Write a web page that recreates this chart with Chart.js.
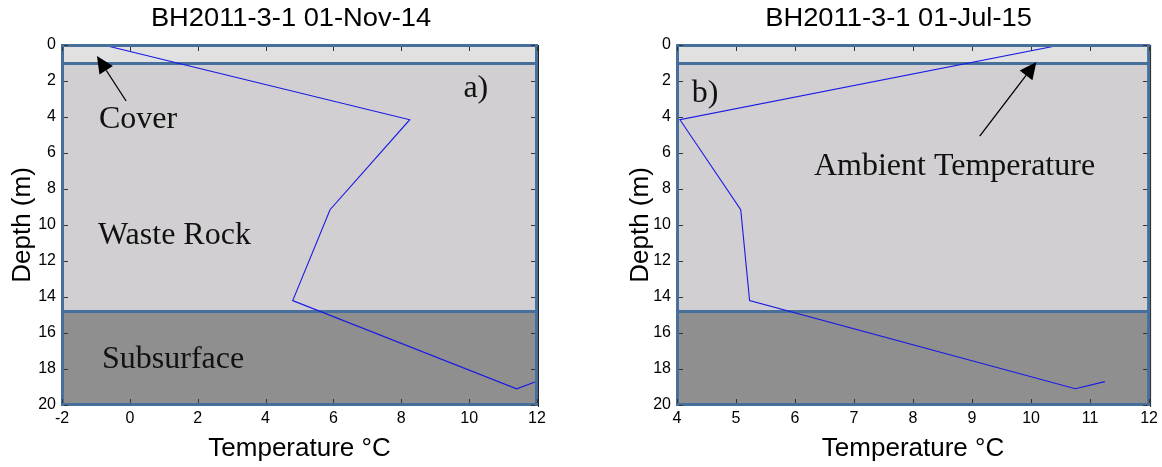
<!DOCTYPE html>
<html>
<head>
<meta charset="utf-8">
<script src="https://cdn.jsdelivr.net/npm/chart.js@4.4.1/dist/chart.umd.min.js"></script>
<style>
html, body { margin: 0; padding: 0; background: #fff; }
#wrap { position: relative; width: 1162px; height: 467px; overflow: hidden; }
canvas { position: absolute; top: 0; }
</style>
</head>
<body>
<div id="wrap">
  <canvas id="chartA" width="581" height="467" style="left:0px"></canvas>
  <canvas id="chartB" width="581" height="467" style="left:581px"></canvas>
</div>
<script>
// temperature profiles (depth in m, temperature in C)
var depthA = [0, 4.15, 9.15, 14.2, 19.1, 18.7];
var tempA = [-0.78, 8.25, 5.9, 4.8, 11.4, 11.98];
var depthB = [0, 4.15, 9.15, 14.2, 19.1, 18.7];
var tempB = [10.5, 4.05, 5.08, 5.23, 10.75, 11.25];

// layer boundaries (m)
var zoneEdges = [0, 1, 14.8, 20];
var zoneNames = ['Cover', 'Waste Rock', 'Subsurface'];

var titleA = 'BH2011-3-1 01-Nov-14';
var titleB = 'BH2011-3-1 01-Jul-15';
var xLabel = 'Temperature \u00B0C';
var yLabel = 'Depth (m)';

var SANS = '"Liberation Sans", Arial, Helvetica, sans-serif';
var BORDER = 'rgb(70,112,155)';
var ZONE_FILL = ['#e1e1e1', '#d1cfd1', '#8f8f8f'];

function toPoints(xs, ys) {
    var pts = [];
    for (var i = 0; i < xs.length; i++) pts.push({x: xs[i], y: ys[i]});
    return pts;
}

var panelDecor = {
    id: 'panelDecor',
    beforeDatasetsDraw: function (chart, args, opts) {
        var ctx = chart.ctx, ys = chart.scales.y, ca = chart.chartArea;
        ctx.save();
        for (var i = 0; i < zoneEdges.length - 1; i++) {
            var y0 = ys.getPixelForValue(zoneEdges[i]);
            var y1 = ys.getPixelForValue(zoneEdges[i + 1]);
            ctx.fillStyle = ZONE_FILL[i];
            ctx.fillRect(ca.left, y0, ca.right - ca.left, y1 - y0);
        }
        ctx.strokeStyle = BORDER;
        ctx.lineWidth = 3;
        for (i = 1; i < zoneEdges.length - 1; i++) {
            var y = Math.round(ys.getPixelForValue(zoneEdges[i])) + 0.5;
            ctx.beginPath();
            ctx.moveTo(ca.left, y);
            ctx.lineTo(ca.right, y);
            ctx.stroke();
        }
        ctx.restore();
    },
    afterDatasetsDraw: function (chart, args, opts) {
        var ctx = chart.ctx, xs = chart.scales.x, ys = chart.scales.y, ca = chart.chartArea;
        ctx.save();
        // frame
        ctx.strokeStyle = BORDER;
        ctx.lineWidth = 3;
        ctx.strokeRect(ca.left + 0.5, ca.top + 0.5, ca.right - ca.left - 1, ca.bottom - ca.top - 1);

        // small inward ticks (matlab box)
        ctx.strokeStyle = '#333';
        ctx.lineWidth = 1;
        ctx.beginPath();
        xs.ticks.forEach(function (t) {
            var px = Math.round(xs.getPixelForValue(t.value)) + 0.5;
            ctx.moveTo(px, ca.bottom - 2); ctx.lineTo(px, ca.bottom - 6);
            ctx.moveTo(px, ca.top + 2); ctx.lineTo(px, ca.top + 6);
        });
        ys.ticks.forEach(function (t) {
            var py = Math.round(ys.getPixelForValue(t.value)) + 0.5;
            ctx.moveTo(ca.right - 2, py); ctx.lineTo(ca.right - 6, py);
            ctx.moveTo(ca.left + 2, py); ctx.lineTo(ca.left + 6, py);
        });
        ctx.stroke();
        ctx.strokeStyle = '#222';
        ctx.beginPath();
        ctx.moveTo(ca.right + 1.5, ca.top);
        ctx.lineTo(ca.right + 1.5, ca.bottom + 2);
        ctx.stroke();

        // text labels
        ctx.fillStyle = '#111';
        ctx.font = '32px "Liberation Serif", "Times New Roman", serif';
        ctx.textBaseline = 'alphabetic';
        ctx.textAlign = 'left';
        (opts.labels || []).forEach(function (l) {
            ctx.fillText(l.text, xs.getPixelForValue(l.x), ys.getPixelForValue(l.y));
        });

        // arrows
        (opts.arrows || []).forEach(function (a) {
            var x0 = xs.getPixelForValue(a.from[0]), y0 = ys.getPixelForValue(a.from[1]);
            var x1 = xs.getPixelForValue(a.to[0]), y1 = ys.getPixelForValue(a.to[1]);
            var ang = Math.atan2(y1 - y0, x1 - x0);
            var hl = 17, hw = 8;
            var bx = x1 - hl * Math.cos(ang), by = y1 - hl * Math.sin(ang);
            ctx.strokeStyle = '#000';
            ctx.lineWidth = 1.3;
            ctx.beginPath();
            ctx.moveTo(x0, y0);
            ctx.lineTo(bx, by);
            ctx.stroke();
            ctx.fillStyle = '#000';
            ctx.beginPath();
            ctx.moveTo(x1, y1);
            ctx.lineTo(bx + hw * Math.sin(ang), by - hw * Math.cos(ang));
            ctx.lineTo(bx - hw * Math.sin(ang), by + hw * Math.cos(ang));
            ctx.closePath();
            ctx.fill();
        });

        // panel title (centred a little left of the plot box, as in the figure)
        if (opts.title) {
            ctx.fillStyle = '#000';
            ctx.font = '26px ' + SANS;
            ctx.textAlign = 'center';
            ctx.textBaseline = 'middle';
            ctx.translate((ca.left + ca.right) / 2 + opts.titleShift, 19);
            ctx.scale(1.05, 1);
            ctx.fillText(opts.title, 0, 0);
        }
        ctx.restore();
    }
};

function makePanel(id, title, temps, depths, xmin, xmax, xstep, pad, yAxisW, decor) {
    var tickFont = {family: SANS, size: 16};
    decor.title = title;
    return new Chart(document.getElementById(id), {
        type: 'scatter',
        data: {
            datasets: [{
                data: toPoints(temps, depths),
                showLine: true,
                borderColor: 'rgb(25,25,230)',
                borderWidth: 1.1,
                pointRadius: 0,
                fill: false
            }]
        },
        options: {
            responsive: false,
            devicePixelRatio: 1,
            animation: false,
            layout: {padding: pad},
            plugins: {
                legend: {display: false},
                tooltip: {enabled: false},
                title: {display: false},
                panelDecor: decor
            },
            scales: {
                x: {
                    type: 'linear',
                    min: xmin, max: xmax,
                    grid: {display: false, drawTicks: false},
                    border: {display: false},
                    ticks: {stepSize: xstep, color: '#000', font: tickFont, padding: 4, maxRotation: 0},
                    title: {
                        display: true, text: xLabel, color: '#000',
                        font: {family: SANS, size: 26},
                        padding: {top: 0, bottom: 3}
                    },
                    afterFit: function (s) { s.height = 62; }
                },
                y: {
                    type: 'linear',
                    reverse: true,
                    min: 0, max: 20,
                    grid: {display: false, drawTicks: false},
                    border: {display: false},
                    ticks: {stepSize: 2, color: '#000', font: tickFont, padding: 6},
                    title: {
                        display: true, text: yLabel, color: '#000',
                        font: {family: SANS, size: 26},
                        padding: {top: 7, bottom: 0}
                    },
                    afterFit: function (s) { s.width = yAxisW; }
                }
            }
        },
        plugins: [panelDecor]
    });
}

makePanel('chartA', titleA, tempA, depthA, -2, 12, 2,
    {left: 0, right: 44, top: 45, bottom: 0}, 62,
    {
        titleShift: -8.5,
        labels: [
            {text: zoneNames[0], x: -0.91, y: 4.61},
            {text: zoneNames[1], x: -0.94, y: 11.06},
            {text: zoneNames[2], x: -0.82, y: 17.94},
            {text: 'a)', x: 9.83, y: 2.89}
        ],
        arrows: [{from: [-0.11, 3.11], to: [-0.97, 0.61]}]
    });

makePanel('chartB', titleB, tempB, depthB, 4, 12, 1,
    {left: 37, right: 10, top: 45, bottom: 0}, 59,
    {
        titleShift: -14.5,
        labels: [
            {text: 'b)', x: 4.25, y: 3.17},
            {text: 'Ambient Temperature', x: 6.32, y: 7.22}
        ],
        arrows: [{from: [9.13, 5.06], to: [10.09, 0.94]}]
    });
</script>
</body>
</html>
